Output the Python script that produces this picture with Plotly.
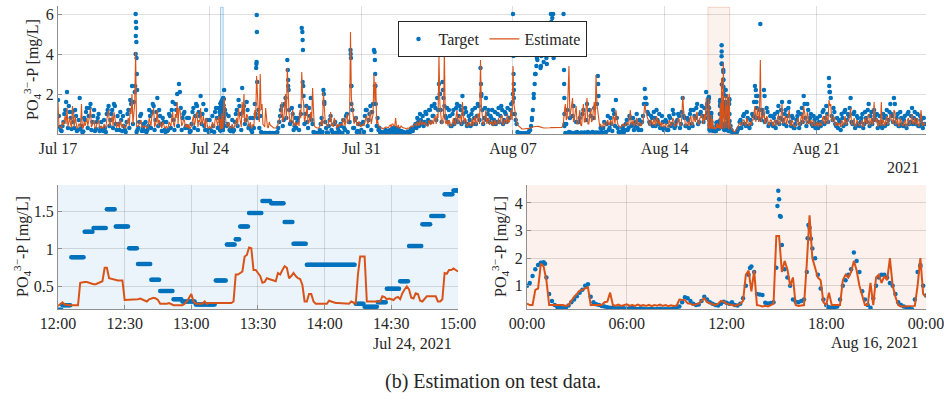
import pandas as pd
import plotly.graph_objects as go

BLUE = "#0072BD"
ORANGE = "#D95319"
FONT = "Liberation Serif"
TXT = "#262626"
GRID = "rgba(38,38,38,0.15)"
AXIS = "#8f8f8f"

# ---------------- Overview: Jul 17 - Aug 26, 2021 ----------------
top_start = "2021-07-17 00:00"
top_end = "2021-08-26 01:30"
# readings at even hours (00, 02, ..., 22)
top_target = [
    1.70, 0.35, 0.15, 0.60, 1.20, 2.10, 1.40, 0.80, 1.10, 0.30, 0.90, 0.20,  # Jul 17
    1.80, 0.40, 0.12, 0.70, 1.30, 0.90, 1.50, 0.60, 1.20, 0.25, 0.80, 0.15,  # Jul 18
    0.60, 0.15, 0.30, 1.00, 1.40, 0.70, 1.20, 1.50, 0.50, 0.90, 0.20, 0.70,  # Jul 19
    0.90, 0.20, 0.60, 1.20, 1.70, 2.40, 1.60, 6.00, 0.20, 0.60, 1.00, 0.30,  # Jul 20
    0.15, 0.10, 0.40, 0.90, 1.10, 1.40, 0.70, 1.80, 1.20, 0.50, 0.80, 0.20,  # Jul 21
    0.60, 0.20, 0.90, 1.20, 0.70, 1.50, 2.00, 2.50, 1.30, 0.80, 1.10, 0.40,  # Jul 22
    0.30, 0.10, 0.50, 1.30, 0.90, 1.40, 1.10, 1.90, 1.00, 0.40, 1.20, 0.20,  # Jul 23
    0.70, 0.15, 0.40, 1.10, 0.80, 1.30, 0.19, 0.78, 2.20, 1.00, 0.50, 0.20,  # Jul 24
    0.30, 0.12, 0.60, 1.20, 1.70, 1.00, 2.30, 1.40, 0.70, 1.20, 0.40, 0.20,  # Jul 25
    0.80, 1.50, 3.60, 1.20, 0.90, 0.05, 0.04, 0.05, 0.03, 0.05, 0.04, 0.05,  # Jul 26
    0.04, 0.05, 0.30, 0.90, 1.40, 0.70, 1.80, 3.70, 1.20, 0.60, 1.00, 0.40,  # Jul 27
    0.30, 0.80, 1.40, 5.30, 1.90, 1.00, 0.60, 1.30, 1.80, 0.50, 0.06, 0.05,  # Jul 28
    0.05, 0.20, 0.80, 2.20, 0.60, 0.08, 0.40, 0.90, 0.10, 0.50, 0.06, 0.30,  # Jul 29
    0.10, 0.40, 0.70, 0.20, 1.00, 0.60, 4.20, 1.20, 0.30, 0.80, 0.15, 0.50,  # Jul 30
    0.20, 0.60, 0.90, 1.20, 0.70, 1.40, 1.10, 4.20, 1.50, 0.80, 0.30, 0.10,  # Jul 31
    0.05, 0.10, 0.15, 0.08, 0.20, 0.25, 0.10, 0.30, 0.12, 0.08, 0.15, 0.10,  # Aug 01
    0.08, 0.05, 0.12, 0.10, 0.20, 0.30, 0.50, 0.80, 0.40, 0.70, 0.90, 0.60,  # Aug 02
    1.00, 0.70, 1.20, 1.40, 0.90, 1.30, 1.80, 2.50, 1.20, 2.60, 1.40, 0.80,  # Aug 03
    0.60, 0.90, 0.40, 1.20, 0.70, 1.50, 0.90, 1.20, 1.90, 0.60, 1.10, 0.50,  # Aug 04
    0.70, 1.00, 0.50, 1.30, 0.90, 1.40, 3.30, 1.20, 0.80, 1.80, 1.00, 0.60,  # Aug 05
    0.80, 0.50, 1.10, 0.60, 1.30, 0.90, 1.20, 0.70, 1.00, 1.30, 0.80, 1.50,  # Aug 06
    6.00, 1.00, 0.50, 0.05, 0.03, 0.02, 0.02, 0.03, 0.05, 0.15, 0.40, 1.20,  # Aug 07
    2.50, 3.40, 4.00, 4.60, 4.20, 3.60, 4.80, 4.30, 5.00, 6.00, 4.50, 4.00,  # Aug 08
    4.30, None, None, None, 6.00, 0.05, 1.20, 0.10, 0.08, 0.90, 0.05, 0.60,  # Aug 09
    0.05, 0.80, 0.08, 1.20, 0.06, 1.50, 0.05, 0.90, 0.10, 1.30, 0.07, 2.90,  # Aug 10
    0.05, 0.10, 0.30, 0.08, 0.50, 0.20, 0.80, 0.15, 1.00, 1.70, 0.30, 0.10,  # Aug 11
    0.10, 0.40, 0.20, 0.70, 0.30, 0.80, 0.50, 0.20, 0.60, 0.30, 0.70, 0.20,  # Aug 12
    0.90, 2.25, 1.50, 1.00, 0.50, 0.80, 1.10, 0.40, 0.70, 1.00, 0.30, 0.60,  # Aug 13
    0.30, 0.60, 0.20, 0.80, 0.50, 1.00, 0.40, 0.70, 0.90, 0.50, 1.80, 0.80,  # Aug 14
    0.40, 0.70, 1.00, 0.50, 1.20, 0.80, 1.50, 0.60, 1.10, 0.90, 1.30, 2.10,  # Aug 15
    1.00, 0.20, 0.40, 0.17, 0.17, 0.35, 0.38, 0.68, 0.50, 1.00, 1.50, 1.00,  # Aug 16
    0.60, 0.20, 0.05, 0.04, 0.10, 0.30, 0.70, 0.50, 1.00, 0.40, 0.80, 0.30,  # Aug 17
    0.50, 0.90, 2.40, 1.30, 0.80, 5.50, 1.20, 2.20, 0.70, 1.10, 0.50, 0.90,  # Aug 18
    0.40, 1.00, 0.60, 1.40, 0.80, 1.60, 0.50, 1.20, 0.90, 1.60, 0.40, 0.80,  # Aug 19
    0.30, 0.70, 1.10, 0.50, 1.30, 1.90, 0.80, 1.50, 0.60, 1.00, 0.40, 0.70,  # Aug 20
    0.50, 0.30, 0.90, 0.60, 1.20, 0.80, 1.00, 2.80, 1.80, 0.70, 1.10, 0.40,  # Aug 21
    0.30, 0.60, 1.00, 0.40, 1.20, 0.70, 0.90, 1.80, 0.50, 1.10, 0.40, 0.80,  # Aug 22
    0.40, 0.80, 0.30, 1.10, 0.60, 1.50, 0.90, 0.50, 1.20, 0.70, 0.30, 0.90,  # Aug 23
    0.60, 1.00, 0.40, 1.20, 0.70, 1.50, 0.90, 1.80, 0.50, 1.00, 0.40, 0.80,  # Aug 24
    0.40, 0.90, 0.30, 1.10, 0.60, 1.30, 0.80, 0.50, 1.00, 0.40, 0.70, 0.30,  # Aug 25
    0.50,                                                                    # Aug 26
]
# readings at odd hours (01, 03, ..., 23)
top_target_odd = [
    0.90, 0.20, 0.40, 1.00, 1.60, 0.30, 1.10, 0.25, 0.60, 1.20, 0.15, 0.70,  # Jul 17
    0.25, 0.10, 0.80, 1.10, 0.30, 1.30, 0.20, 0.90, 0.15, 0.60, 1.00, 0.30,  # Jul 18
    0.20, 0.70, 0.10, 1.20, 0.40, 1.00, 0.30, 1.40, 0.20, 0.50, 1.10, 0.15,  # Jul 19
    0.40, 0.10, 1.00, 0.30, 1.50, 0.50, 2.10, 0.10, 0.30, 0.90, 0.15, 0.50,  # Jul 20
    0.60, 0.20, 1.20, 0.30, 1.50, 0.20, 1.10, 0.40, 0.90, 0.15, 0.60, 0.10,  # Jul 21
    0.15, 1.00, 0.30, 1.60, 0.20, 1.20, 0.40, 2.10, 0.20, 1.00, 0.30, 0.80,  # Jul 22
    0.80, 0.15, 1.10, 0.30, 1.50, 0.20, 0.90, 0.50, 1.50, 0.20, 0.70, 0.10,  # Jul 23
    0.20, 0.90, 0.10, 1.30, 0.30, 1.10, 0.60, 0.30, 1.20, 0.40, 0.90, 0.15,  # Jul 24
    0.70, 0.20, 1.00, 0.40, 1.40, 0.20, 1.10, 0.50, 1.60, 0.30, 0.80, 0.10,  # Jul 25
    0.30, 1.00, 0.80, 0.30, 0.10, 0.04, 0.05, 0.03, 0.04, 0.05, 0.03, 0.04,  # Jul 26
    0.05, 0.10, 0.60, 1.20, 0.40, 1.50, 0.80, 2.40, 0.50, 1.30, 0.20, 0.80,  # Jul 27
    0.60, 0.20, 1.00, 2.60, 0.50, 1.40, 0.30, 0.90, 0.70, 0.10, 0.05, 0.04,  # Jul 28
    0.04, 0.50, 0.10, 1.50, 0.30, 0.05, 0.70, 0.20, 0.05, 0.60, 0.04, 0.15,  # Jul 29
    0.50, 0.05, 0.30, 0.90, 0.10, 0.60, 2.40, 0.30, 0.70, 0.10, 0.50, 0.05,  # Jul 30
    0.50, 0.10, 1.20, 0.40, 1.00, 0.20, 1.50, 2.40, 0.40, 0.20, 0.08, 0.05,  # Jul 31
    0.08, 0.20, 0.05, 0.15, 0.10, 0.30, 0.20, 0.10, 0.25, 0.05, 0.12, 0.06,  # Aug 01
    0.04, 0.10, 0.06, 0.25, 0.15, 0.40, 0.30, 0.60, 1.00, 0.50, 0.40, 1.10,  # Aug 02
    0.50, 1.20, 0.60, 0.90, 1.50, 0.70, 1.20, 2.00, 0.60, 1.80, 0.90, 1.30,  # Aug 03
    1.20, 0.40, 1.00, 0.50, 1.30, 0.60, 1.40, 0.50, 1.00, 1.30, 0.40, 0.90,  # Aug 04
    0.40, 1.20, 0.80, 0.50, 1.50, 0.70, 2.00, 0.50, 1.30, 0.70, 1.20, 0.90,  # Aug 05
    1.20, 0.70, 0.50, 1.00, 0.60, 1.40, 0.50, 1.10, 0.60, 0.80, 1.20, 1.00,  # Aug 06
    2.20, 0.70, 0.10, 0.04, 0.02, 0.02, 0.03, 0.02, 0.08, 0.20, 0.70, 1.80,  # Aug 07
    3.00, 3.70, 4.30, 3.40, 4.60, 4.00, 3.80, 4.50, 5.20, 5.00, 3.80, 4.60,  # Aug 08
    None, None, None, None, 0.40, 0.50, 0.05, 0.80, 0.04, 1.40, 0.06, 0.10,  # Aug 09
    0.60, 0.05, 1.00, 0.08, 0.70, 0.10, 1.20, 0.05, 0.80, 0.06, 1.50, 0.08,  # Aug 10
    0.30, 0.06, 0.60, 0.10, 0.90, 0.30, 0.50, 1.20, 0.40, 0.80, 0.10, 0.05,  # Aug 11
    0.30, 0.10, 0.50, 0.20, 0.90, 0.40, 0.80, 0.40, 1.00, 0.20, 0.50, 0.60,  # Aug 12
    1.50, 1.80, 1.10, 0.60, 0.90, 0.40, 0.80, 1.20, 0.50, 0.30, 0.90, 0.20,  # Aug 13
    0.70, 0.20, 0.90, 0.40, 1.20, 0.30, 0.60, 1.00, 0.30, 1.10, 0.90, 0.40,  # Aug 14
    0.80, 0.30, 1.20, 0.40, 0.90, 1.30, 0.50, 1.00, 1.40, 0.60, 0.80, 1.50,  # Aug 15
    1.80, 0.20, 1.00, 0.20, 0.16, 0.15, 0.40, 1.50, 0.45, 0.50, 1.40, 0.17,  # Aug 16
    0.40, 0.06, 0.03, 0.05, 0.20, 0.60, 0.30, 0.90, 0.50, 1.10, 0.40, 0.70,  # Aug 17
    1.00, 1.60, 0.80, 1.90, 1.20, 0.70, 1.00, 0.60, 1.30, 0.40, 0.90, 0.50,  # Aug 18
    0.80, 0.30, 1.10, 0.50, 1.20, 0.70, 1.00, 0.40, 1.30, 0.60, 0.90, 0.30,  # Aug 19
    0.50, 0.90, 0.30, 1.00, 0.60, 1.50, 0.40, 1.20, 0.80, 0.50, 0.90, 0.30,  # Aug 20
    0.80, 0.60, 0.40, 1.10, 0.50, 1.40, 0.60, 2.10, 0.90, 1.30, 0.50, 0.80,  # Aug 21
    0.70, 0.20, 0.80, 1.10, 0.50, 1.00, 1.30, 0.60, 1.00, 0.30, 0.90, 0.50,  # Aug 22
    0.60, 1.00, 0.50, 0.80, 1.20, 0.40, 1.10, 0.70, 0.90, 1.00, 0.60, 0.40,  # Aug 23
    0.30, 0.80, 0.90, 0.50, 1.10, 1.00, 0.60, 1.50, 0.80, 0.40, 1.10, 0.50,  # Aug 24
    0.70, 0.40, 1.00, 0.50, 0.90, 0.50, 1.10, 0.70, 0.40, 0.90, 0.50, 0.80,  # Aug 25
]
top_estimate = [
    1.60, 0.35, 0.30, 0.45, 0.90, 1.30, 0.70, 0.50, 1.40, 0.35, 0.60, 0.30,  # Jul 17
    0.50, 1.50, 0.30, 0.40, 0.80, 0.60, 1.30, 0.45, 0.70, 0.30, 0.55, 0.35,  # Jul 18
    0.40, 0.30, 0.35, 0.70, 1.20, 0.50, 0.90, 1.10, 0.40, 0.60, 0.30, 0.45,  # Jul 19
    0.50, 0.30, 0.50, 0.80, 1.30, 2.00, 1.20, 4.10, 0.40, 0.50, 0.70, 0.35,  # Jul 20
    0.35, 0.30, 0.40, 0.60, 0.90, 1.30, 0.50, 1.20, 0.70, 0.40, 0.60, 0.30,  # Jul 21
    0.40, 0.30, 0.50, 0.80, 0.50, 1.00, 1.60, 1.30, 0.90, 0.50, 0.70, 0.35,  # Jul 22
    0.30, 0.25, 0.40, 0.90, 0.60, 1.10, 0.70, 1.30, 0.60, 0.40, 0.80, 0.30,  # Jul 23
    0.40, 0.30, 0.35, 0.70, 0.60, 0.90, 0.24, 0.28, 1.80, 0.60, 0.40, 0.30,  # Jul 24
    0.35, 0.30, 0.50, 0.80, 1.30, 0.70, 1.60, 2.00, 0.60, 0.90, 0.40, 0.30,  # Jul 25
    0.50, 1.20, 2.90, 1.00, 3.00, 1.50, 0.40, 1.30, 0.35, 0.60, 0.40, 0.30,  # Jul 26
    0.30, 0.35, 0.50, 0.90, 1.60, 0.80, 2.00, 3.30, 1.00, 0.60, 1.20, 0.50,  # Jul 27
    0.40, 0.60, 1.20, 3.10, 1.60, 0.80, 1.40, 0.60, 1.10, 2.30, 0.40, 0.30,  # Jul 28
    0.30, 0.40, 0.70, 2.10, 0.60, 0.40, 0.70, 1.10, 0.45, 0.80, 0.40, 0.50,  # Jul 29
    0.40, 0.50, 0.80, 0.40, 1.00, 0.70, 5.10, 1.20, 0.50, 0.90, 0.45, 0.60,  # Jul 30
    0.40, 0.50, 0.70, 0.90, 0.60, 1.20, 0.80, 3.00, 2.60, 0.70, 0.40, 0.30,  # Jul 31
    0.25, 0.30, 0.35, 0.30, 0.45, 0.50, 0.40, 0.80, 0.35, 0.30, 0.40, 0.30,  # Aug 01
    0.30, 0.25, 0.30, 0.35, 0.40, 0.45, 0.50, 0.60, 0.40, 0.55, 0.60, 0.45,  # Aug 02
    0.50, 0.40, 0.60, 0.70, 0.50, 0.80, 1.00, 3.95, 0.70, 0.60, 4.20, 0.50,  # Aug 03
    0.40, 0.60, 0.40, 0.80, 0.50, 1.20, 0.70, 0.90, 1.60, 0.50, 0.70, 0.40,  # Aug 04
    0.50, 0.60, 0.40, 0.90, 0.60, 1.00, 3.70, 0.80, 0.60, 1.20, 0.70, 0.45,  # Aug 05
    0.50, 0.40, 0.70, 0.50, 0.80, 0.60, 0.90, 0.50, 0.70, 1.00, 0.60, 1.20,  # Aug 06
    3.40, 1.20, 0.60, 0.40, 0.30, 0.25, 0.25, 0.25, 0.25, 0.28, 0.30, 0.35,  # Aug 07
    0.38, 0.40, 0.38, 0.35, 0.33, 0.30, 0.30, 0.28, 0.30, 0.32, 0.33, 0.35,  # Aug 08
    0.35, 0.33, 0.32, 0.33, 0.60, 1.50, 0.80, 3.40, 1.20, 1.80, 0.70, 1.40,  # Aug 09
    0.50, 1.20, 0.40, 1.50, 0.60, 1.80, 0.50, 1.30, 0.70, 1.60, 2.95, 1.00,  # Aug 10
    0.40, 0.35, 0.50, 0.40, 0.60, 0.45, 0.70, 0.40, 0.80, 1.20, 0.50, 0.40,  # Aug 11
    0.35, 0.50, 0.40, 0.60, 0.45, 1.20, 0.50, 0.40, 0.70, 0.45, 0.60, 0.40,  # Aug 12
    0.60, 1.50, 0.90, 0.70, 0.40, 0.60, 0.80, 0.40, 0.60, 0.70, 0.35, 0.50,  # Aug 13
    0.35, 0.50, 0.30, 0.60, 0.45, 0.70, 0.40, 0.50, 0.70, 0.45, 1.90, 0.60,  # Aug 14
    0.40, 0.60, 0.80, 0.45, 0.90, 0.60, 1.10, 0.50, 0.80, 0.70, 1.00, 1.80,  # Aug 15
    0.35, 0.28, 0.30, 0.33, 0.32, 0.30, 0.35, 0.28, 1.30, 0.40, 1.00, 1.00,  # Aug 16
    0.60, 0.30, 0.20, 0.12, 0.30, 0.40, 0.60, 0.50, 0.70, 0.40, 0.60, 0.40,  # Aug 17
    0.45, 0.70, 1.40, 0.90, 0.60, 3.70, 0.90, 1.30, 0.60, 0.80, 0.45, 0.70,  # Aug 18
    0.40, 0.70, 0.50, 1.00, 0.60, 1.50, 0.50, 0.90, 0.70, 1.20, 0.40, 0.60,  # Aug 19
    0.35, 0.50, 0.80, 0.45, 1.00, 1.40, 0.60, 1.10, 0.50, 0.70, 0.40, 0.50,  # Aug 20
    0.45, 0.35, 0.60, 0.50, 0.90, 0.60, 0.80, 1.70, 1.50, 0.60, 0.80, 0.40,  # Aug 21
    0.40, 0.50, 0.70, 0.40, 0.90, 0.55, 0.70, 1.30, 0.45, 0.80, 0.40, 0.60,  # Aug 22
    0.40, 0.60, 0.35, 0.80, 0.50, 1.00, 0.70, 0.45, 1.60, 0.60, 0.35, 0.70,  # Aug 23
    1.60, 0.70, 0.40, 0.90, 0.55, 1.00, 0.70, 1.20, 0.45, 0.80, 0.40, 0.60,  # Aug 24
    0.40, 0.70, 0.35, 0.80, 0.50, 1.00, 0.60, 0.45, 0.80, 0.40, 1.20, 0.40,  # Aug 25
    0.45,                                                                    # Aug 26
]
top_estimate_odd = [
    0.40, 0.30, 0.60, 0.70, 0.50, 0.35, 0.80, 0.30, 0.50, 0.90, 0.30, 0.50,  # Jul 17
    0.35, 0.30, 0.60, 0.70, 0.40, 0.90, 0.35, 0.60, 0.30, 0.50, 0.70, 0.30,  # Jul 18
    0.30, 0.50, 0.30, 0.90, 0.40, 0.70, 0.40, 0.80, 0.30, 0.40, 0.70, 0.30,  # Jul 19
    0.35, 0.30, 0.70, 0.40, 1.00, 0.50, 1.50, 0.35, 0.40, 0.60, 0.30, 0.40,  # Jul 20
    0.40, 0.30, 0.80, 0.40, 1.00, 0.35, 0.70, 0.40, 0.60, 0.30, 0.50, 0.30,  # Jul 21
    0.30, 0.60, 0.40, 1.10, 0.35, 0.80, 0.50, 1.20, 0.40, 0.70, 0.35, 0.50,  # Jul 22
    0.50, 0.30, 0.70, 0.40, 1.00, 0.35, 0.60, 0.45, 0.90, 0.30, 0.50, 0.30,  # Jul 23
    0.30, 0.60, 0.30, 0.80, 0.40, 0.70, 0.30, 0.40, 0.80, 0.40, 0.60, 0.30,  # Jul 24
    0.50, 0.30, 0.70, 0.40, 0.90, 0.35, 0.80, 0.60, 1.00, 0.40, 0.60, 0.30,  # Jul 25
    0.40, 0.80, 1.30, 0.60, 1.20, 0.50, 0.35, 0.70, 0.30, 0.45, 0.35, 0.30,  # Jul 26
    0.30, 0.40, 0.70, 1.00, 0.60, 1.20, 0.70, 1.80, 0.60, 1.00, 0.40, 0.60,  # Jul 27
    0.50, 0.40, 0.80, 1.80, 0.60, 1.00, 0.50, 0.80, 0.60, 1.20, 0.35, 0.30,  # Jul 28
    0.30, 0.50, 0.40, 1.20, 0.50, 0.35, 0.60, 0.40, 0.35, 0.60, 0.30, 0.40,  # Jul 29
    0.50, 0.40, 0.60, 0.80, 0.50, 0.70, 1.80, 0.60, 0.70, 0.40, 0.60, 0.35,  # Jul 30
    0.50, 0.40, 0.80, 0.50, 0.90, 0.50, 1.00, 1.60, 0.50, 0.40, 0.30, 0.30,  # Jul 31
    0.30, 0.35, 0.30, 0.40, 0.35, 0.50, 0.40, 0.35, 0.45, 0.30, 0.35, 0.30,  # Aug 01
    0.25, 0.30, 0.28, 0.40, 0.35, 0.50, 0.40, 0.55, 0.70, 0.45, 0.50, 0.60,  # Aug 02
    0.40, 0.70, 0.45, 0.60, 0.90, 0.50, 0.80, 1.50, 0.50, 1.00, 0.60, 0.70,  # Aug 03
    0.70, 0.40, 0.60, 0.45, 0.90, 0.50, 0.90, 0.45, 0.70, 0.80, 0.40, 0.60,  # Aug 04
    0.40, 0.80, 0.60, 0.45, 1.00, 0.50, 1.40, 0.45, 0.80, 0.50, 0.80, 0.60,  # Aug 05
    0.70, 0.50, 0.45, 0.60, 0.50, 0.90, 0.45, 0.70, 0.50, 0.60, 0.80, 0.70,  # Aug 06
    1.50, 0.80, 0.45, 0.35, 0.28, 0.25, 0.25, 0.26, 0.25, 0.30, 0.32, 0.36,  # Aug 07
    0.40, 0.39, 0.36, 0.34, 0.32, 0.30, 0.29, 0.29, 0.31, 0.32, 0.34, 0.35,  # Aug 08
    0.34, 0.33, 0.33, 0.40, 1.20, 0.70, 2.00, 0.80, 1.40, 0.60, 1.10, 0.50,  # Aug 09
    0.80, 0.45, 1.00, 0.60, 1.30, 0.50, 0.90, 0.60, 1.20, 0.70, 1.50, 0.60,  # Aug 10
    0.50, 0.35, 0.60, 0.40, 0.70, 0.50, 0.60, 0.90, 0.50, 0.70, 0.40, 0.35,  # Aug 11
    0.45, 0.40, 0.50, 0.45, 0.80, 0.50, 0.70, 0.45, 0.80, 0.40, 0.50, 0.55,  # Aug 12
    1.00, 1.20, 0.80, 0.50, 0.70, 0.45, 0.60, 0.90, 0.45, 0.40, 0.60, 0.35,  # Aug 13
    0.50, 0.35, 0.70, 0.40, 0.80, 0.40, 0.50, 0.80, 0.40, 0.80, 1.20, 0.45,  # Aug 14
    0.60, 0.40, 0.90, 0.45, 0.70, 1.00, 0.50, 0.80, 1.00, 0.50, 0.70, 1.20,  # Aug 15
    1.70, 0.30, 0.85, 0.30, 0.30, 0.30, 0.40, 1.50, 1.00, 0.30, 1.35, 0.25,  # Aug 16
    0.40, 0.20, 0.10, 0.20, 0.35, 0.50, 0.40, 0.70, 0.50, 0.80, 0.45, 0.60,  # Aug 17
    0.70, 1.10, 0.60, 1.30, 0.90, 0.60, 0.80, 0.50, 0.90, 0.45, 0.70, 0.45,  # Aug 18
    0.60, 0.40, 0.80, 0.45, 0.90, 0.60, 0.80, 0.45, 1.00, 0.50, 0.70, 0.40,  # Aug 19
    0.45, 0.70, 0.40, 0.80, 0.50, 1.10, 0.45, 0.90, 0.60, 0.45, 0.70, 0.40,  # Aug 20
    0.60, 0.50, 0.40, 0.80, 0.50, 1.00, 0.50, 1.40, 0.70, 0.90, 0.45, 0.60,  # Aug 21
    0.55, 0.35, 0.60, 0.80, 0.45, 0.70, 0.90, 0.50, 0.70, 0.40, 0.70, 0.45,  # Aug 22
    0.50, 0.70, 0.45, 0.60, 0.90, 0.40, 0.80, 0.60, 0.70, 0.80, 0.50, 0.40,  # Aug 23
    0.40, 0.60, 0.70, 0.45, 0.80, 0.70, 0.50, 1.10, 0.60, 0.40, 0.80, 0.45,  # Aug 24
    0.55, 0.40, 0.70, 0.45, 0.70, 0.50, 0.80, 0.55, 0.40, 0.70, 0.50, 0.60,  # Aug 25
]
# extra target readings during fast peaks (vertical columns of dots)
top_peak_times = [
    "2021-07-20 13:30", "2021-07-20 14:00", "2021-07-20 14:10", "2021-07-20 14:20", "2021-07-20 14:40",
    "2021-07-20 14:50", "2021-07-20 15:00", "2021-07-20 15:20", "2021-07-20 15:40",
    "2021-07-26 03:30", "2021-07-26 03:45", "2021-07-26 04:10", "2021-07-26 04:20", "2021-07-26 04:40",
    "2021-07-27 14:30", "2021-07-27 15:00", "2021-07-27 15:30",
    "2021-07-28 06:40", "2021-07-28 07:00", "2021-07-28 07:20", "2021-07-28 07:40",
    "2021-07-29 06:30", "2021-07-29 07:00",
    "2021-07-30 12:15", "2021-07-30 12:30", "2021-07-30 12:45", "2021-07-30 13:00",
    "2021-07-31 14:40", "2021-07-31 15:00", "2021-07-31 15:20", "2021-07-31 15:40",
    "2021-08-03 15:00", "2021-08-03 18:30",
    "2021-08-05 12:30", "2021-08-05 12:50",
    "2021-08-06 23:40", "2021-08-06 23:50",
    "2021-08-07 00:20", "2021-08-07 00:30", "2021-08-07 00:40", "2021-08-07 00:50", "2021-08-07 01:00",
    "2021-08-07 21:00", "2021-08-07 23:00",
    "2021-08-08 00:30", "2021-08-08 02:30", "2021-08-08 04:30", "2021-08-08 06:30", "2021-08-08 07:30",
    "2021-08-08 09:30", "2021-08-08 10:30", "2021-08-08 11:30", "2021-08-08 13:30", "2021-08-08 14:30",
    "2021-08-08 15:30", "2021-08-08 17:30", "2021-08-08 18:30", "2021-08-08 19:30", "2021-08-08 20:30",
    "2021-08-08 21:30", "2021-08-08 23:30",
    "2021-08-09 08:10", "2021-08-09 08:20", "2021-08-09 08:30", "2021-08-09 08:40", "2021-08-09 08:50",
    "2021-08-09 09:00", "2021-08-09 09:10",
    "2021-08-10 22:20", "2021-08-10 22:40",
    "2021-08-13 02:30", "2021-08-13 03:00",
    "2021-08-18 05:00", "2021-08-18 05:20", "2021-08-18 05:40", "2021-08-18 14:40",
    "2021-08-21 14:20", "2021-08-21 14:40",
]
top_peak_values = [
    2.4, 4.0, 4.9, 5.6, 5.3,
    4.6, 3.8, 3.0, 2.2,
    3.3, 3.5, 5.95, 5.1, 2.6,
    3.2, 2.7, 2.2,
    5.1, 4.7, 4.2, 2.4,
    2.0, 1.6,
    4.0, 3.8, 2.4, 1.5,
    4.1, 3.7, 3.0, 2.4,
    2.0, 2.2,
    2.5, 1.9,
    1.6, 2.0,
    4.2, 3.9, 3.0, 2.5, 1.8,
    0.8, 2.0,
    3.0, 3.8, 4.4, 3.3, 3.9,
    4.7, 4.9, 4.0, 3.5, 4.1,
    4.6, 5.3, 5.6, 5.8, 6.0,
    4.2, 4.4,
    5.0, 4.0, 3.2, 2.5, 1.8,
    1.0, 0.5,
    2.5, 1.9,
    1.8, 1.5,
    2.2, 1.9, 1.6, 1.9,
    2.4, 2.1,
]
top_ticks = ["2021-07-17", "2021-07-24", "2021-07-31", "2021-08-07", "2021-08-14", "2021-08-21"]

# ---------------- Zoom 1: Jul 24, 2021, 12:00-15:00 (minutes from 12:00) ----------------
bl_start = "2021-07-24 12:00"
bl_end = "2021-07-24 15:00"
bl_seg_start = [0, 2, 6, 12, 16, 22, 26, 32, 36, 42, 46, 52, 56, 62, 71, 76, 80, 82, 86, 92,
                96, 102, 106, 112, 134, 138, 144, 148, 154, 158, 164, 168, 174, 178]
bl_seg_end = [2, 6, 12, 16, 22, 26, 32, 36, 42, 46, 52, 56, 62, 71, 76, 80, 82, 86, 92, 96,
              102, 106, 112, 134, 138, 144, 148, 154, 158, 164, 168, 174, 178, 181]
bl_seg_value = [0.19, 0.25, 0.89, 1.23, 1.28, 1.53, 1.30, 1.01, 0.80, 0.59, 0.44, 0.33, 0.30, 0.26,
                0.58, 1.06, 1.13, 1.30, 1.48, 1.64, 1.61, 1.36, 1.07, 0.79, 0.27, 0.23, 0.29, 0.47,
                0.57, 1.04, 1.33, 1.44, 1.73, 1.78]
bl_estimate = [  # one value per minute, 12:00 ... 15:00
    0.24, 0.26, 0.29, 0.26, 0.25, 0.25, 0.25, 0.25, 0.25, 0.25,
    0.55, 0.56, 0.56, 0.56, 0.55, 0.53, 0.53, 0.53, 0.54, 0.56,
    0.57, 0.75, 0.75, 0.61, 0.60, 0.59, 0.59, 0.58, 0.58, 0.58,
    0.32, 0.32, 0.32, 0.33, 0.33, 0.32, 0.33, 0.34, 0.33, 0.32,
    0.30, 0.33, 0.34, 0.35, 0.34, 0.32, 0.27, 0.27, 0.26, 0.27,
    0.28, 0.26, 0.25, 0.25, 0.25, 0.25, 0.25, 0.27, 0.30, 0.35,
    0.40, 0.30, 0.27, 0.27, 0.27, 0.27, 0.30, 0.27, 0.28, 0.28,
    0.28, 0.28, 0.29, 0.29, 0.28, 0.28, 0.28, 0.28, 0.28, 0.30,
    0.66, 0.66, 0.68, 0.70, 0.90, 0.92, 1.02, 1.01, 0.72, 0.72,
    0.68, 0.64, 0.55, 0.56, 0.61, 0.60, 0.59, 0.59, 0.57, 0.68,
    0.66, 0.72, 0.77, 0.75, 0.61, 0.64, 0.68, 0.64, 0.61, 0.60,
    0.52, 0.30, 0.30, 0.40, 0.40, 0.30, 0.27, 0.27, 0.27, 0.27,
    0.27, 0.27, 0.31, 0.30, 0.28, 0.28, 0.28, 0.28, 0.27, 0.28,
    0.27, 0.27, 0.30, 0.29, 0.27, 0.66, 0.90, 0.90, 0.90, 0.30,
    0.30, 0.30, 0.30, 0.30, 0.30, 0.30, 0.37, 0.36, 0.33, 0.34,
    0.33, 0.32, 0.35, 0.36, 0.33, 0.41, 0.46, 0.50, 0.46, 0.35,
    0.34, 0.41, 0.40, 0.31, 0.30, 0.33, 0.37, 0.37, 0.37, 0.37,
    0.37, 0.30, 0.30, 0.33, 0.68, 0.67, 0.72, 0.72, 0.74, 0.72,
    0.70,
]
bl_ticks = ["2021-07-24 12:00", "2021-07-24 12:30", "2021-07-24 13:00", "2021-07-24 13:30",
            "2021-07-24 14:00", "2021-07-24 14:30", "2021-07-24 15:00"]

# ---------------- Zoom 2: Aug 16, 2021, one reading every 10 min ----------------
br_start = "2021-08-16 00:00"
br_end = "2021-08-17 00:00"
br_target = [
    1.00, 1.10, 1.35, 1.60, 1.75, 1.83, 1.85, 1.30, 0.70, 0.45, 0.30, 0.22,  # 00-02h
    0.20, 0.18, 0.20, 0.28, 0.40, 0.50, 0.62, 0.75, 0.85, 1.00, 1.05, 0.60,  # 02-04h
    0.40, 0.33, 0.30, 0.27, 0.25, 0.22, 0.20, 0.20, 0.18, 0.18, 0.20, 0.18,  # 04-06h
    0.17, 0.18, 0.20, 0.17, 0.16, 0.18, 0.17, 0.15, 0.16, 0.17, 0.15, 0.16,  # 06-08h
    0.17, 0.15, 0.16, 0.15, 0.16, 0.18, 0.20, 0.25, 0.40, 0.58, 0.55, 0.45,  # 08-10h
    0.35, 0.30, 0.32, 0.45, 0.60, 0.50, 0.40, 0.35, 0.30, 0.28, 0.35, 0.42,  # 10-12h
    0.38, 0.35, 0.40, 0.30, 0.28, 0.35, 0.55, 1.00, 1.40, 1.70, 1.50, 0.70,  # 12-14h
    0.68, 0.66, 0.38, 0.36, 0.37, 0.40, 1.65, 4.13, 2.48, 1.60, 1.30, 1.00,  # 14-16h
    0.50, 0.42, 0.40, 0.45, 0.50, 1.50, 3.10, 2.35, 2.00, 1.40, 0.90, 0.50,  # 16-18h
    0.30, 0.22, 0.20, 0.20, 0.25, 0.50, 1.00, 1.20, 1.40, 1.60, 2.20, 1.90,  # 18-20h
    1.50, 0.80, 0.50, 0.30, 0.20, 0.55, 1.00, 1.30, 1.40, 1.40, 1.30, 1.10,  # 20-22h
    1.00, 0.70, 0.40, 0.30, 0.25, 0.20, 0.17, 0.15, 0.50, 1.50, 1.75, 1.00,  # 22-24h
    0.65,
]
br_estimate = [
    0.35, 0.30, 0.30, 0.85, 0.90, 1.80, 1.70, 1.20, 0.30, 0.30, 0.28, 0.30,
    0.28, 0.30, 0.27, 0.30, 0.45, 0.60, 0.70, 0.82, 0.85, 0.90, 0.95, 0.30,
    0.30, 0.28, 0.30, 0.30, 0.40, 0.42, 0.75, 0.30, 0.28, 0.32, 0.27, 0.30,
    0.33, 0.28, 0.30, 0.27, 0.32, 0.28, 0.30, 0.27, 0.31, 0.26, 0.30, 0.28,
    0.32, 0.27, 0.30, 0.26, 0.29, 0.27, 0.28, 0.50, 0.50, 0.48, 0.36, 0.35,
    0.30, 0.32, 0.35, 0.45, 0.55, 0.40, 0.35, 0.33, 0.30, 0.35, 0.45, 0.42,
    0.35, 0.32, 0.30, 0.28, 0.30, 0.35, 0.45, 1.40, 1.55, 0.80, 1.55, 0.30,
    0.28, 0.25, 0.27, 0.25, 0.30, 0.35, 2.80, 2.80, 1.50, 1.90, 1.60, 1.00,
    1.30, 0.30, 0.27, 0.28, 0.30, 1.80, 3.55, 2.00, 1.60, 1.30, 1.20, 0.40,
    0.30, 0.75, 0.30, 0.30, 0.30, 0.30, 1.20, 1.40, 1.30, 1.50, 1.90, 1.55,
    1.00, 0.60, 0.30, 0.30, 1.10, 0.30, 1.30, 1.40, 1.10, 1.35, 1.20, 2.00,
    1.00, 0.60, 0.30, 0.25, 0.25, 0.26, 0.25, 0.25, 0.27, 1.00, 2.00, 0.70,
    0.60,
]
br_peak_times = ["2021-08-16 01:05", "2021-08-16 13:25", "2021-08-16 15:04", "2021-08-16 15:07",
                 "2021-08-16 15:13", "2021-08-16 15:16", "2021-08-16 16:53", "2021-08-16 16:56",
                 "2021-08-16 17:05", "2021-08-16 23:40"]
br_peak_values = [1.80, 1.64, 3.89, 4.44, 3.53, 3.50, 2.72, 3.20, 2.70, 1.70]
br_ticks = ["2021-08-16 00:00", "2021-08-16 06:00", "2021-08-16 12:00", "2021-08-16 18:00",
            "2021-08-17 00:00"]

# ---------------- build time axes ----------------
t_start = pd.Timestamp(top_start)


def hourly(even_vals, odd_vals):
    pts = [(t_start + pd.Timedelta(hours=2 * i), v) for i, v in enumerate(even_vals)]
    pts += [(t_start + pd.Timedelta(hours=2 * i + 1), v) for i, v in enumerate(odd_vals)]
    pts.sort(key=lambda p: p[0])
    return [p[0] for p in pts], [p[1] for p in pts]


top_tt, top_tv = hourly(top_target, top_target_odd)
top_et, top_ev = hourly(top_estimate, top_estimate_odd)

bl_t0 = pd.Timestamp(bl_start)
bl_tx, bl_ty = [], []
for a, b, v in zip(bl_seg_start, bl_seg_end, bl_seg_value):
    m = a
    while m <= b - 0.5:
        bl_tx.append(bl_t0 + pd.Timedelta(minutes=m))
        bl_ty.append(v)
        m += 0.5
bl_ex = [bl_t0 + pd.Timedelta(minutes=i) for i in range(len(bl_estimate))]

br_tt = list(pd.date_range(br_start, periods=len(br_target), freq="10min"))
br_te = list(pd.date_range(br_start, periods=len(br_estimate), freq="10min"))


def splice(base_t, base_v, det_t, det_v):
    a, b = min(det_t), max(det_t)
    kept = [(t, v) for t, v in zip(base_t, base_v) if t < a or t > b]
    merged = sorted(kept + list(zip(det_t, det_v)), key=lambda p: p[0])
    return [p[0] for p in merged], [p[1] for p in merged]


# overview series include the detailed readings of the two zoom windows
tx, ty = splice(top_tt, top_tv, bl_tx, bl_ty)
tx, ty = splice(tx, ty, br_tt, br_target)
tx = tx + [pd.Timestamp(t) for t in top_peak_times + br_peak_times]
ty = ty + top_peak_values + br_peak_values
ex, ey = splice(top_et, top_ev, bl_ex, bl_estimate)
ex, ey = splice(ex, ey, br_te, br_estimate)

fig = go.Figure()
fig.add_trace(go.Scatter(x=tx, y=ty, mode="markers", name="Target",
                         marker=dict(size=4.5, color=BLUE), xaxis="x", yaxis="y"))
fig.add_trace(go.Scatter(x=ex, y=ey, mode="lines", name="Estimate",
                         line=dict(width=1.1, color=ORANGE), xaxis="x", yaxis="y"))
fig.add_trace(go.Scatter(x=bl_tx, y=bl_ty, mode="markers", showlegend=False,
                         marker=dict(size=4.5, color=BLUE), xaxis="x2", yaxis="y2"))
fig.add_trace(go.Scatter(x=bl_ex, y=bl_estimate, mode="lines", showlegend=False,
                         line=dict(width=2, color=ORANGE), xaxis="x2", yaxis="y2"))
fig.add_trace(go.Scatter(x=br_tt + [pd.Timestamp(t) for t in br_peak_times],
                         y=br_target + br_peak_values, mode="markers", showlegend=False,
                         marker=dict(size=4.5, color=BLUE), xaxis="x3", yaxis="y3"))
fig.add_trace(go.Scatter(x=br_te, y=br_estimate, mode="lines", showlegend=False,
                         line=dict(width=2, color=ORANGE), xaxis="x3", yaxis="y3"))

W, H = 944, 402


def px_x(p):
    return p / W


def px_y(p):
    return 1 - p / H


tickfont = dict(family=FONT, size=16, color=TXT)
common_ax = dict(showgrid=True, gridcolor=GRID, gridwidth=1, showline=True, linecolor=AXIS,
                 linewidth=1.3, ticks="inside", ticklen=4, tickcolor=AXIS, zeroline=False,
                 tickfont=tickfont, mirror=False, automargin=False, ticklabeloverflow="allow")

# range ends nudged by a few seconds so that the last tick label is kept
br_range_end = (pd.Timestamp(br_end) + pd.Timedelta(seconds=20)).strftime("%Y-%m-%d %H:%M:%S")
bl_range_end = (pd.Timestamp(bl_end) + pd.Timedelta(seconds=2)).strftime("%Y-%m-%d %H:%M:%S")

fig.update_layout(
    width=W, height=H, margin=dict(l=0, r=0, t=0, b=0, autoexpand=False),
    paper_bgcolor="white", plot_bgcolor="white",
    font=dict(family=FONT, size=16, color=TXT),
    xaxis=dict(domain=[px_x(58), px_x(926)], anchor="y", type="date",
               range=[top_start, top_end], tickmode="array", tickvals=top_ticks,
               ticktext=[pd.Timestamp(t).strftime("%b %d") for t in top_ticks], **common_ax),
    yaxis=dict(domain=[px_y(134), px_y(6)], anchor="x", range=[0, 6.4],
               tickmode="array", tickvals=[2, 4, 6], **common_ax),
    xaxis2=dict(domain=[px_x(58), px_x(458)], anchor="y2", type="date",
                range=[bl_start, bl_range_end], tickmode="array", tickvals=bl_ticks,
                ticktext=[pd.Timestamp(t).strftime("%H:%M") for t in bl_ticks], **common_ax),
    yaxis2=dict(domain=[px_y(309), px_y(185)], anchor="x2", range=[0.2, 1.853],
                tickmode="array", tickvals=[0.5, 1, 1.5], ticktext=["0.5", "1", "1.5"], **common_ax),
    xaxis3=dict(domain=[px_x(527), px_x(926)], anchor="y3", type="date",
                range=[br_start, br_range_end], tickmode="array", tickvals=br_ticks,
                ticktext=[pd.Timestamp(t).strftime("%H:%M") for t in br_ticks], **common_ax),
    yaxis3=dict(domain=[px_y(309), px_y(185)], anchor="x3", range=[0.157, 4.65],
                tickmode="array", tickvals=[1, 2, 3, 4], **common_ax),
    legend=dict(orientation="h", x=px_x(492), xanchor="center", y=px_y(21), yanchor="top",
                bgcolor="white", bordercolor=TXT, borderwidth=1,
                font=dict(family=FONT, size=16, color=TXT), itemwidth=30),
    showlegend=True,
)

fig.add_shape(type="rect", xref="x2 domain", yref="y2 domain", x0=0, x1=1, y0=0, y1=1,
              fillcolor="#EBF4FA", line=dict(width=0), layer="below")
fig.add_shape(type="rect", xref="x3 domain", yref="y3 domain", x0=0, x1=1, y0=0, y1=1,
              fillcolor="#FCF1ED", line=dict(width=0), layer="below")
fig.add_shape(type="rect", xref="x", yref="y domain", x0=bl_start, x1=bl_end, y0=0, y1=0.99,
              fillcolor="rgba(0,114,189,0.10)", line=dict(width=1, color="rgba(0,114,189,0.30)"),
              layer="below")
fig.add_shape(type="rect", xref="x", yref="y domain", x0=br_start, x1=br_end, y0=0, y1=0.99,
              fillcolor="rgba(217,83,25,0.08)", line=dict(width=1, color="rgba(217,83,25,0.22)"),
              layer="below")

ytitle = "PO<sub>4</sub><sup>3−</sup>-P [mg/L]"
ann_font = dict(family=FONT, size=16, color=TXT)
for (xc, yc) in [(32, 70), (22, 247), (500, 247)]:
    fig.add_annotation(text=ytitle, xref="paper", yref="paper", x=px_x(xc), y=px_y(yc),
                       xanchor="center", yanchor="middle", textangle=-90, showarrow=False,
                       font=ann_font)
fig.add_annotation(text="2021", xref="paper", yref="paper", x=px_x(903), y=px_y(167),
                   xanchor="center", yanchor="middle", showarrow=False, font=ann_font)
fig.add_annotation(text="Jul 24, 2021", xref="paper", yref="paper", x=px_x(454), y=px_y(343),
                   xanchor="right", yanchor="middle", showarrow=False, font=ann_font)
fig.add_annotation(text="Aug 16, 2021", xref="paper", yref="paper", x=px_x(921), y=px_y(343),
                   xanchor="right", yanchor="middle", showarrow=False, font=ann_font)
fig.add_annotation(text="(b) Estimation on test data.", xref="paper", yref="paper",
                   x=px_x(493), y=px_y(381), xanchor="center", yanchor="middle", showarrow=False,
                   font=dict(family=FONT, size=20, color=TXT))

fig.write_html("out.html")
